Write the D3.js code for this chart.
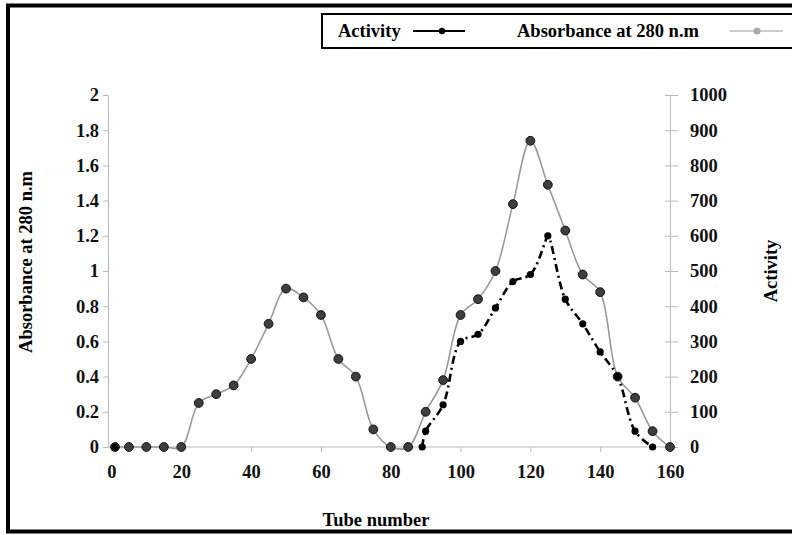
<!DOCTYPE html>
<html>
<head>
<meta charset="utf-8">
<script src="https://cdn.jsdelivr.net/npm/d3@7"></script>
<style>
  body { margin: 0; background: #fff; }
  text { font-family: "Liberation Serif", "Times New Roman", serif; font-weight: bold; }
</style>
</head>
<body>
<script>
// absorbance at 280 n.m (left axis)
var absTubes  = [1, 5, 10, 15, 20, 25, 30, 35, 40, 45, 50, 55, 60, 65, 70, 75, 80, 85,
                 90, 95, 100, 105, 110, 115, 120, 125, 130, 135, 140, 145, 150, 155, 160]
var absValues = [0, 0, 0, 0, 0, 0.25, 0.3, 0.35, 0.5, 0.7, 0.9, 0.85, 0.75, 0.5, 0.4, 0.1, 0, 0,
                 0.2, 0.38, 0.75, 0.84, 1.0, 1.38, 1.74, 1.49, 1.23, 0.98, 0.88, 0.4, 0.28, 0.09, 0]

// activity (right axis), null = no reading
var actTubes  = [1, 45, 89, 90, 95, 100, 105, 110, 115, 120, 124, 125, 130, 135, 140, 145, 150, 155]
var actValues = [0, null, 0, 45, 120, 300, 320, 395, 470, 490, 575, 600, 420, 350, 270, 200, 45, 0]

var xTicks = [0, 20, 40, 60, 80, 100, 120, 140, 160]
var yLeftTicks = [0, 0.2, 0.4, 0.6, 0.8, 1, 1.2, 1.4, 1.6, 1.8, 2]
var yRightTicks = [0, 100, 200, 300, 400, 500, 600, 700, 800, 900, 1000]

var width = 792
var height = 535
var margin = { top: 95, bottom: 88, left: 108, right: 122 }
var fontSize = "18.5px"

var svg = d3.select("body").append("svg")
  .attr("width", width)
  .attr("height", height)

// outer frame
svg.append("rect")
  .attr("x", 8).attr("y", 5.5)
  .attr("width", 900).attr("height", 526)
  .attr("fill", "none").attr("stroke", "#000").attr("stroke-width", 4)

var x = d3.scaleLinear().domain([-1, 160]).range([margin.left, width - margin.right])
var yL = d3.scaleLinear().domain([0, 2]).range([height - margin.bottom, margin.top])
var yR = d3.scaleLinear().domain([0, 1000]).range([height - margin.bottom, margin.top])

function styleAxis(g) {
  g.select(".domain").attr("stroke", "#bbb")
  g.selectAll(".tick line").attr("stroke", "#bbb")
  g.selectAll(".tick text").attr("fill", "#111").style("font-size", fontSize)
}

// x axis
svg.append("g")
  .attr("transform", "translate(0," + yL(0) + ")")
  .call(d3.axisBottom(x).tickValues(xTicks).tickSize(5).tickSizeOuter(0).tickPadding(13))
  .call(styleAxis)
  .call(g => g.select(".domain").attr("d", "M" + margin.left + ",0H" + (width - margin.right)))

// left axis
svg.append("g")
  .attr("transform", "translate(" + margin.left + ",0)")
  .call(d3.axisLeft(yL).tickValues(yLeftTicks).tickSize(5).tickSizeOuter(0).tickPadding(4)
    .tickFormat(d => String(+d.toFixed(1))))
  .call(styleAxis)

// right axis, ticks cross the line
var rightAxis = svg.append("g")
  .attr("transform", "translate(" + (width - margin.right) + ",0)")
  .call(d3.axisRight(yR).tickValues(yRightTicks).tickSize(8).tickSizeOuter(0).tickPadding(12)
    .tickFormat(d => String(d)))
  .call(styleAxis)
rightAxis.selectAll(".tick line").attr("x1", -5)

// axis titles
svg.append("text")
  .attr("text-anchor", "middle")
  .attr("transform", "translate(32,262) rotate(-90)")
  .style("font-size", fontSize)
  .text("Absorbance at 280 n.m")

svg.append("text")
  .attr("text-anchor", "middle")
  .attr("transform", "translate(777,271) rotate(-90)")
  .style("font-size", fontSize)
  .text("Activity")

svg.append("text")
  .attr("text-anchor", "middle")
  .attr("x", 376).attr("y", 526)
  .style("font-size", fontSize)
  .text("Tube number")

// absorbance series
var absData = absTubes.map((t, i) => ({ t: t, v: absValues[i] }))
var absLine = d3.line()
  .x(d => x(d.t)).y(d => yL(d.v))
  .curve(d3.curveCatmullRom.alpha(0.5))

svg.append("path")
  .datum(absData)
  .attr("d", absLine)
  .attr("fill", "none")
  .attr("stroke", "#9a9a9a")
  .attr("stroke-width", 1.6)

// activity series
var actData = actTubes.map((t, i) => ({ t: t, v: actValues[i] }))
var actLine = d3.line()
  .defined(d => d.v != null)
  .x(d => x(d.t)).y(d => yR(d.v))
  .curve(d3.curveCatmullRom.alpha(0.5))

svg.append("path")
  .datum(actData)
  .attr("d", actLine)
  .attr("fill", "none")
  .attr("stroke", "#000")
  .attr("stroke-width", 2.6)
  .attr("stroke-dasharray", "8,4,2,4")

svg.selectAll("circle.abs")
  .data(absData)
  .enter()
  .append("circle")
  .attr("class", "abs")
  .attr("cx", d => x(d.t))
  .attr("cy", d => yL(d.v))
  .attr("r", 4.4)
  .attr("fill", "#3e3e3e")
  .attr("stroke", "#111")
  .attr("stroke-width", 1)

svg.selectAll("circle.act")
  .data(actData.filter(d => d.v != null && d.t !== 124))
  .enter()
  .append("circle")
  .attr("class", "act")
  .attr("cx", d => x(d.t))
  .attr("cy", d => yR(d.v))
  .attr("r", 3.6)
  .attr("fill", "#000")

// legend
var legend = svg.append("g")
legend.append("rect")
  .attr("x", 322).attr("y", 14)
  .attr("width", 480).attr("height", 34)
  .attr("fill", "#fff").attr("stroke", "#000").attr("stroke-width", 2)

legend.append("text").attr("x", 338).attr("y", 37).style("font-size", fontSize).text("Activity")
legend.append("line").attr("x1", 413).attr("x2", 465).attr("y1", 31).attr("y2", 31)
  .attr("stroke", "#000").attr("stroke-width", 2)
legend.append("circle").attr("cx", 442).attr("cy", 31).attr("r", 3.2).attr("fill", "#000")

legend.append("text").attr("x", 517).attr("y", 37).style("font-size", fontSize).text("Absorbance at 280 n.m")
legend.append("line").attr("x1", 730).attr("x2", 783).attr("y1", 31).attr("y2", 31)
  .attr("stroke", "#bbb").attr("stroke-width", 1.5)
legend.append("circle").attr("cx", 757).attr("cy", 31).attr("r", 3.5).attr("fill", "#aaa")
</script>
</body>
</html>
